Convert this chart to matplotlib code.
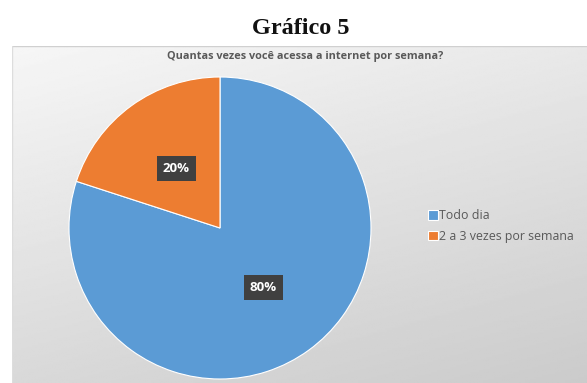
import numpy as np
import matplotlib
matplotlib.use("Agg")
import matplotlib.pyplot as plt

categories = ["Todo dia", "2 a 3 vezes por semana"]
values = [80, 20]
colors = ["#5B9BD5", "#ED7D31"]
title = "Gráfico 5"
subtitle = "Quantas vezes você acessa a internet por semana?"

W, H = 587, 383
fig = plt.figure(figsize=(W / 100, H / 100), dpi=100)
fig.patch.set_facecolor("white")

# chart area with gray gradient
bg = fig.add_axes([12 / W, 0, (W - 12) / W, (H - 46) / H])
yy, xx = np.mgrid[0:1:200j, 0:1:300j]
g = 0.965 - 0.17 * (0.75 * yy + 0.35 * xx) / 1.1
bg.imshow(g, cmap="gray", vmin=0, vmax=1, aspect="auto", extent=(0, 1, 0, 1), origin="upper")
bg.set_xlim(0, 1)
bg.set_ylim(0, 1)
bg.axis("off")
bg.plot([0, 1], [1, 1], color="#d0d0d0", lw=1)
bg.plot([0, 0], [0, 1], color="#dddddd", lw=1)

fig.text(301 / W, 1 - 29 / H, title, ha="center", va="center",
         fontsize=17.5, fontweight="bold", family="Liberation Serif", color="#111111")
fig.text(305 / W, 1 - 56 / H, subtitle, ha="center", va="center",
         fontsize=7.8, fontweight="bold", family="Open Sans", color="#595959")

cx, cy, r = 220, 228, 151
ax = fig.add_axes([(cx - r) / W, (H - cy - r) / H, 2 * r / W, 2 * r / H])
wedges, texts, autotexts = ax.pie(values, colors=colors, startangle=90, counterclock=False,
                                  autopct="%1.0f%%", pctdistance=0.49,
                                  wedgeprops=dict(edgecolor="white", linewidth=0.8))
for t in autotexts:
    t.set_color("white")
    t.set_fontweight("bold")
    t.set_fontsize(9.5)
    t.set_family("Open Sans")
    t.set_bbox(dict(facecolor="#404040", edgecolor="none", boxstyle="square,pad=0.45"))
ax.set_xlim(-1, 1)
ax.set_ylim(-1, 1)
ax.set_aspect("equal")

leg = fig.legend(wedges, categories, loc="center left", bbox_to_anchor=(422 / W, 1 - 226 / H),
                 frameon=False, fontsize=8.9, handlelength=0.8, handleheight=0.8,
                 handletextpad=0.1, labelspacing=0.6, borderpad=0)
for t in leg.get_texts():
    t.set_color("#595959")
    t.set_family("Open Sans")

fig.savefig("out.png", dpi=100)
